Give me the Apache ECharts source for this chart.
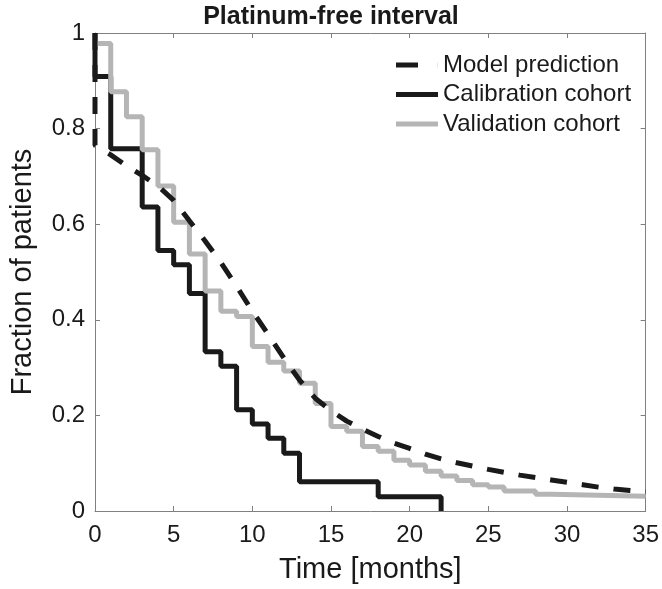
<!DOCTYPE html>
<html>
<head>
<meta charset="utf-8">
<script src="https://cdn.jsdelivr.net/npm/echarts@6/dist/echarts.min.js"></script>
<style>html,body{margin:0;padding:0;background:#fff;}#c{width:662px;height:589px;}</style>
</head>
<body>
<div id="c"></div>
<script>
// Model prediction (smooth curve)
var modelT = [0, 0, 0.5, 1, 2, 3, 4, 5, 6, 7, 8, 9, 10, 11, 12, 13, 14, 15, 16, 17, 18, 19, 20, 21, 22, 23, 24, 25, 26, 27, 28, 29, 30, 31, 32, 33, 34, 35];
var modelV = [1, 0.765, 0.755, 0.745, 0.722, 0.702, 0.68, 0.65, 0.607, 0.565, 0.52, 0.47, 0.418, 0.37, 0.32, 0.274, 0.236, 0.21, 0.188, 0.171, 0.156, 0.142, 0.131, 0.119, 0.109, 0.101, 0.094, 0.087, 0.081, 0.075, 0.07, 0.065, 0.06, 0.055, 0.05, 0.046, 0.043, 0.04];
// Calibration cohort (Kaplan-Meier steps)
var calibT = [0, 0, 1, 3, 4, 5, 6, 7, 8, 9, 10, 11, 12, 13, 18, 22];
var calibV = [1, 0.909, 0.758, 0.636, 0.545, 0.515, 0.455, 0.333, 0.303, 0.212, 0.182, 0.152, 0.121, 0.061, 0.030, 0];
// Validation cohort (Kaplan-Meier steps)
var validT = [0, 1, 2, 3, 4, 5, 6, 7, 8, 9, 10, 11, 12, 13, 14, 15, 16, 17, 18, 19, 20, 21, 22, 23, 24, 25, 26, 28, 29, 35];
var validV = [0.978, 0.877, 0.825, 0.756, 0.68, 0.604, 0.5375, 0.46, 0.418, 0.407, 0.344, 0.311, 0.293, 0.267, 0.225, 0.177, 0.167, 0.135, 0.125, 0.106, 0.096, 0.083, 0.073, 0.064, 0.055, 0.05, 0.042, 0.035, 0.031, 0.031];

var seriesNames = ['Model prediction', 'Calibration cohort', 'Validation cohort'];
var titleText = 'Platinum-free interval';
var xName = 'Time [months]';
var yName = 'Fraction of patients';

function pairs(t, v) { return t.map(function (x, i) { return [x, v[i]]; }); }

var FONT = 'Liberation Sans, Arial, Helvetica, sans-serif';
var AX = '#808080';
var DARK = '#1a1a1a';
var GRAY = '#b5b5b5';
var chart = echarts.init(document.getElementById('c'), null, { renderer: 'canvas' });
chart.setOption({
  animation: false,
  backgroundColor: '#fff',
  title: {
    text: titleText, left: 'center', top: 0,
    textStyle: { fontFamily: FONT, fontWeight: 'bold', fontSize: 25, color: DARK }
  },
  legend: {
    orient: 'vertical', left: 391, top: 48, itemGap: 5.5,
    itemWidth: 42, itemHeight: 5,
    textStyle: { fontFamily: FONT, fontSize: 24, color: DARK },
    data: [
      { name: seriesNames[0], icon: 'path://M0 0H22V5H0Z M41.9 0H42V5H41.9Z', itemStyle: { color: DARK } },
      { name: seriesNames[1], icon: 'rect', itemStyle: { color: DARK } },
      { name: seriesNames[2], icon: 'rect', itemStyle: { color: GRAY } }
    ]
  },
  grid: { left: 78, right: 14, top: 33, bottom: 76, containLabel: false },
  xAxis: [{
    type: 'value', min: 0, max: 35, interval: 5, position: 'bottom',
    name: xName, nameLocation: 'middle', nameGap: 44,
    nameTextStyle: { fontFamily: FONT, fontSize: 29, color: DARK },
    axisLine: { show: true, onZero: false, lineStyle: { color: AX, width: 1 } },
    axisTick: { show: true, inside: true, length: 5, lineStyle: { color: AX } },
    axisLabel: { fontFamily: FONT, fontSize: 24, color: DARK, margin: 12 },
    splitLine: { show: false }
  }, {
    type: 'value', min: 0, max: 35, interval: 5, position: 'top',
    axisLine: { show: true, onZero: false, lineStyle: { color: AX, width: 1 } },
    axisTick: { show: true, inside: true, length: 5, lineStyle: { color: AX } },
    axisLabel: { show: false }, splitLine: { show: false }
  }],
  yAxis: [{
    type: 'value', min: 0, max: 1, interval: 0.2, position: 'left',
    name: yName, nameLocation: 'middle', nameGap: 58, nameRotate: 90,
    nameTextStyle: { fontFamily: FONT, fontSize: 29, color: DARK },
    axisLine: { show: true, onZero: false, lineStyle: { color: AX, width: 1 } },
    axisTick: { show: true, inside: true, length: 5, lineStyle: { color: AX } },
    axisLabel: { fontFamily: FONT, fontSize: 24, color: DARK, margin: 10 },
    splitLine: { show: false }
  }, {
    type: 'value', min: 0, max: 1, interval: 0.2, position: 'right',
    axisLine: { show: true, onZero: false, lineStyle: { color: AX, width: 1 } },
    axisTick: { show: true, inside: true, length: 5, lineStyle: { color: AX } },
    axisLabel: { show: false }, splitLine: { show: false }
  }],
  series: [{
    name: seriesNames[1], type: 'line', step: 'end', symbol: 'none', z: 2,
    data: pairs(calibT, calibV),
    lineStyle: { color: DARK, width: 5 }, itemStyle: { color: DARK }
  }, {
    name: seriesNames[2], type: 'line', step: 'end', symbol: 'none', z: 3,
    data: pairs(validT, validV),
    lineStyle: { color: GRAY, width: 5 }, itemStyle: { color: GRAY }
  }, {
    name: seriesNames[0], type: 'line', symbol: 'none', z: 4,
    data: pairs(modelT, modelV),
    lineStyle: { color: DARK, width: 5, type: [17, 15] }, itemStyle: { color: DARK }
  }]
});
</script>
</body>
</html>
